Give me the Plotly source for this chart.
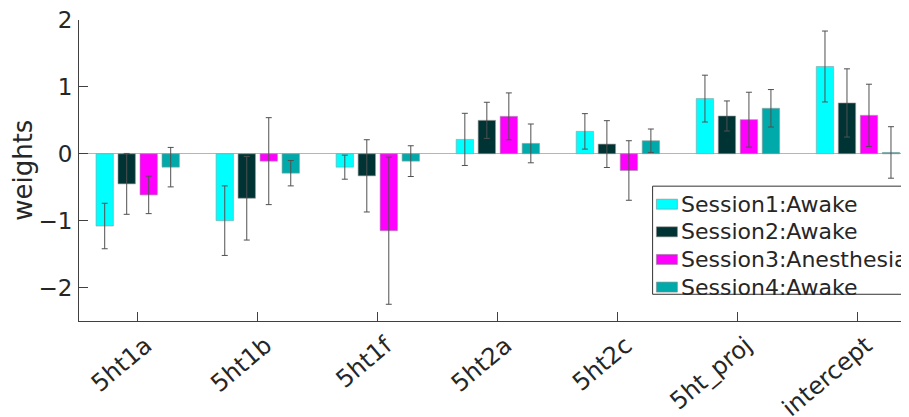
import plotly.graph_objects as go

categories = ["5ht1a", "5ht1b", "5ht1f", "5ht2a", "5ht2c", "5ht_proj", "intercept"]

session_names = ["Session1:Awake", "Session2:Awake", "Session3:Anesthesia", "Session4:Awake"]

s1_vals = [-1.08, -1.00, -0.20, 0.215, 0.335, 0.825, 1.305]
s1_err = [0.34, 0.52, 0.18, 0.39, 0.265, 0.35, 0.53]

s2_vals = [-0.45, -0.665, -0.33, 0.50, 0.145, 0.565, 0.76]
s2_err = [0.455, 0.625, 0.54, 0.27, 0.35, 0.225, 0.51]

s3_vals = [-0.615, -0.11, -1.15, 0.56, -0.25, 0.51, 0.575]
s3_err = [0.28, 0.65, 1.10, 0.35, 0.445, 0.41, 0.465]

s4_vals = [-0.20, -0.29, -0.11, 0.155, 0.195, 0.68, 0.02]
s4_err = [0.295, 0.19, 0.23, 0.29, 0.175, 0.28, 0.385]

colors = ["#00ffff", "#003333", "#ff00ff", "#00aaaa"]

series_vals = [s1_vals, s2_vals, s3_vals, s4_vals]
series_err = [s1_err, s2_err, s3_err, s4_err]

FONT = "DejaVu Sans"
TXT = "#262626"
AX = "#404040"

fig = go.Figure()
for name, vals, errs, col in zip(session_names, series_vals, series_err, colors):
    fig.add_trace(go.Bar(
        x=categories, y=vals, name=name, showlegend=False,
        marker=dict(color=col, line=dict(color="#9a9a9a", width=0.6)),
        error_y=dict(type="data", array=errs, visible=True,
                     color="#505050", thickness=1, width=3),
    ))

# figure geometry (page body has an 8px offset)
W, H = 940, 409
L, T = 71.3, 12
pw, ph = 829.7, 300.7
R = W - L - pw
B = H - T - ph


def px(fx):
    return (fx - L) / pw


def py(fy):
    return (T + ph - fy) / ph


# boxed legend drawn to match the reference
shapes = [dict(type="rect", xref="paper", yref="paper",
               x0=px(644.7), x1=px(935), y0=py(286), y1=py(178),
               line=dict(color="#333333", width=1), fillcolor="white",
               layer="above")]
annotations = []
row0, drow = 196.0, 27.6
for i, (name, col) in enumerate(zip(session_names, colors)):
    yc = row0 + i * drow
    shapes.append(dict(type="rect", xref="paper", yref="paper",
                       x0=px(648.5), x1=px(669.5), y0=py(yc + 5), y1=py(yc - 5),
                       line=dict(color="#8a8a8a", width=0.6), fillcolor=col,
                       layer="above"))
    annotations.append(dict(text=name, xref="paper", yref="paper",
                            x=px(671), y=py(yc), xanchor="left", yanchor="middle",
                            showarrow=False,
                            font=dict(family=FONT, size=22, color=TXT)))

annotations.append(dict(
    text="weights", textangle=-90,
    xref="paper", yref="paper",
    x=px(15), y=py(162),
    xanchor="center", yanchor="middle", showarrow=False,
    font=dict(family=FONT, size=26, color=TXT),
))

fig.update_layout(
    width=W, height=H,
    margin=dict(l=L, r=R, t=T, b=B, pad=0),
    paper_bgcolor="white", plot_bgcolor="white",
    barmode="group", bargap=0.267, bargroupgap=0.21,
    font=dict(family=FONT, color=TXT),
    showlegend=False,
    xaxis=dict(
        type="category",
        range=[-0.489, 6.425],
        showline=True, linecolor=AX, linewidth=1,
        ticks="inside", ticklen=9, tickcolor=AX, tickwidth=1,
        tickangle=-40, tickfont=dict(family=FONT, size=24, color=TXT),
        ticklabelstandoff=0, ticklabelshift=8,
        ticklabeloverflow="allow",
        showgrid=False, zeroline=False, automargin=False,
    ),
    yaxis=dict(
        range=[-2.5, 2],
        tickvals=[-2, -1, 0, 1, 2],
        ticktext=["\u22122", "\u22121", "0", "1", "2"],
        showline=True, linecolor=AX, linewidth=1,
        ticks="inside", ticklen=9, tickcolor=AX, tickwidth=1,
        tickfont=dict(family=FONT, size=23, color=TXT),
        ticklabelstandoff=1, ticklabeloverflow="allow",
        showgrid=False,
        zeroline=True, zerolinecolor="#b5b5b5", zerolinewidth=1,
        automargin=False,
    ),
    shapes=shapes,
    annotations=annotations,
)

fig.write_html("out.html")
